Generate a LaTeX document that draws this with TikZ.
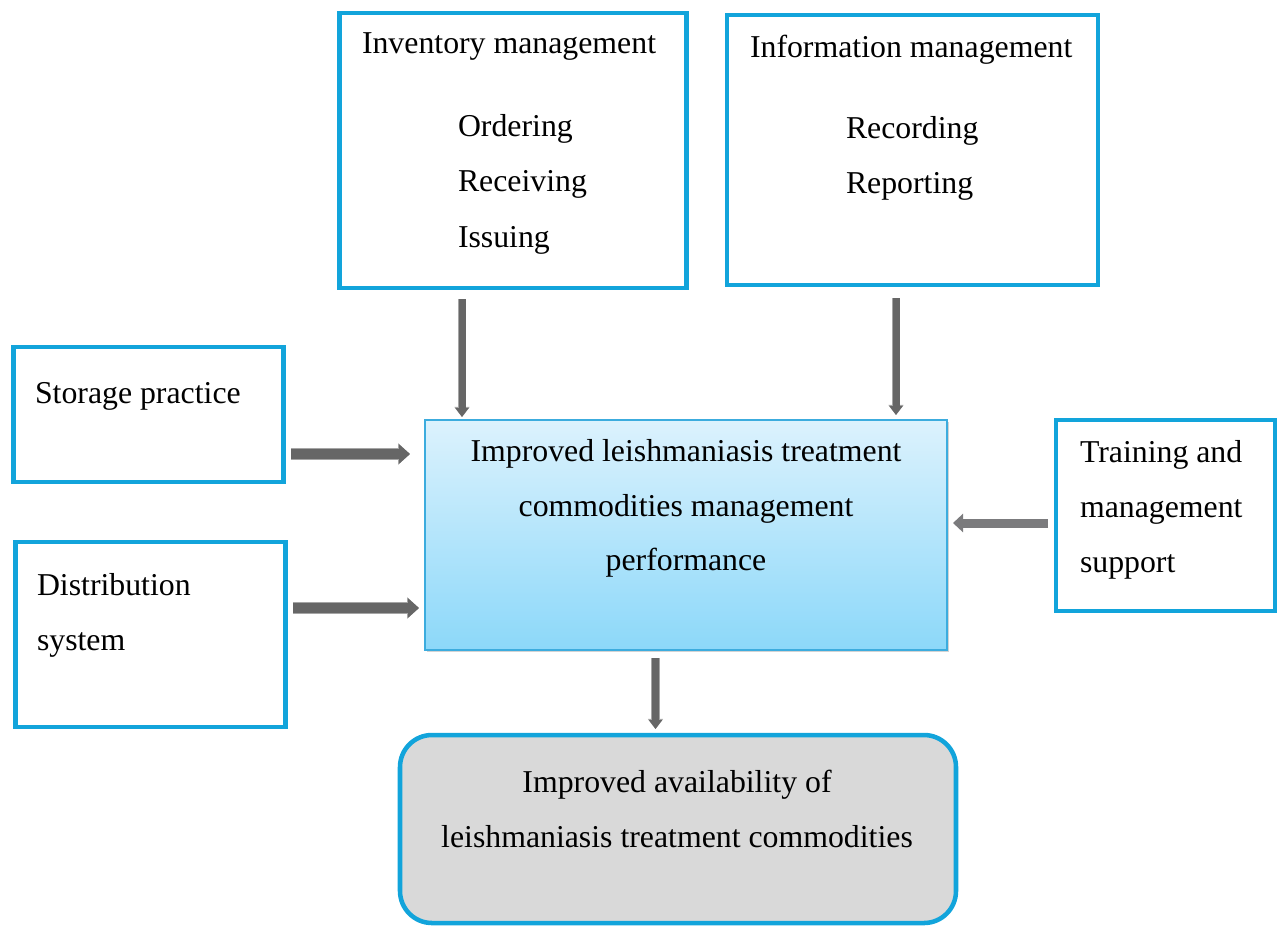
\documentclass[tikz,border=0pt]{standalone}
\usepackage{fontspec}
\setmainfont{Liberation Serif}
\usetikzlibrary{arrows.meta,shadows}
\definecolor{bblue}{RGB}{18,164,219}
\definecolor{cborder}{RGB}{60,172,222}
\definecolor{ctop}{RGB}{220,242,253}
\definecolor{cbot}{RGB}{140,216,249}
\definecolor{agray}{RGB}{102,102,102}
\definecolor{agrayl}{RGB}{165,165,165}
\definecolor{tgray}{RGB}{123,123,125}
\definecolor{botfill}{RGB}{217,217,217}
\begin{document}
\begin{tikzpicture}[x=0.75pt,y=-0.75pt,
  box/.style={draw=bblue, line width=3.4pt, rectangle, inner sep=0pt, outer sep=0pt, anchor=north west},
  lbl/.style={font=\fontsize{23.85pt}{30pt}\selectfont, inner sep=0pt, outer sep=0pt, anchor=base west},
  clbl/.style={lbl, anchor=base},
  varrow/.style={draw=agray, line width=5.25pt, -{Triangle[length=6.75pt,width=9.75pt]},
    preaction={draw=agrayl, line width=6.6pt, -{Triangle[length=7.6pt,width=11pt]}}},
  harrow/.style={draw=agray, line width=7.1pt, -{Triangle[length=8.25pt,width=14.25pt]},
    preaction={draw=agrayl, line width=8.4pt, -{Triangle[length=9pt,width=15.6pt]}}},
  larrow/.style={draw=tgray, line width=6.75pt, -{Triangle[length=7.5pt,width=13.5pt]}}
]
\useasboundingbox (0,0) rectangle (1280,926);

% boxes
\node[box, minimum width=260.25pt, minimum height=206.25pt] (inv) at (339.5,13) {};
\node[box, minimum width=278.25pt, minimum height=202.5pt] (info) at (727,15) {};
\node[box, minimum width=202.5pt, minimum height=101.25pt] (stor) at (13.5,347) {};
\node[box, minimum width=202.5pt, minimum height=138.75pt] (dist) at (15.5,542) {};
\node[box, minimum width=164.25pt, minimum height=143.25pt] (train) at (1056,420) {};
\node[rectangle, draw=cborder, line width=1.1pt, top color=ctop, bottom color=cbot,
      drop shadow={shadow xshift=1.5pt, shadow yshift=-1.5pt, opacity=0.35, fill=black!50},
      inner sep=0pt, outer sep=0pt, anchor=north west,
      minimum width=391.5pt, minimum height=172.5pt] (ctr) at (425,420) {};
\node[box, fill=botfill, rounded corners=24pt, minimum width=417pt, minimum height=141pt] (bot) at (400,735) {};

% texts
\node[lbl] (t1) at (362,53) {Inventory management};
\node[lbl] (t2) at (458,136) {Ordering};
\node[lbl] (t3) at (458,191) {Receiving};
\node[lbl] (t4) at (458,247) {Issuing};
\node[lbl] (t5) at (750,57) {Information management};
\node[lbl] (t6) at (846,138) {Recording};
\node[lbl] (t7) at (846,193) {Reporting};
\node[lbl] (t8) at (35,403) {Storage practice};
\node[lbl] (t9) at (37,595) {Distribution};
\node[lbl] (t10) at (37,650) {system};
\node[lbl] (t11) at (1080,462) {Training and};
\node[lbl] (t12) at (1080,517) {management};
\node[lbl] (t13) at (1080,572) {support};
\node[clbl] (t14) at (686,461) {Improved leishmaniasis treatment};
\node[clbl] (t15) at (686,516) {commodities management};
\node[clbl] (t16) at (686,570) {performance};
\node[clbl] (t17) at (677,792) {Improved availability of};
\node[clbl] (t18) at (677,847) {leishmaniasis treatment commodities};

% arrow guides
\coordinate (a1) at (462,0);
\coordinate (a2) at (896,0);
\coordinate (a3) at (0,454);
\coordinate (a4) at (0,608);
\coordinate (a5) at (0,523);
\coordinate (a6) at (655.5,0);

% arrows
\draw[varrow, shorten <=8.25pt, shorten >=2.25pt] (inv.south -| a1) -- (ctr.north -| a1);
\draw[varrow, shorten <=9.75pt, shorten >=3.75pt] (info.south -| a2) -- (ctr.north -| a2);
\draw[harrow, shorten <=5.6pt, shorten >=11.25pt] (stor.east |- a3) -- (ctr.west |- a3);
\draw[harrow, shorten <=5.6pt, shorten >=4.5pt] (dist.east |- a4) -- (ctr.west |- a4);
\draw[larrow, shorten <=6pt, shorten >=4.5pt] (train.west |- a5) -- (ctr.east |- a5);
\draw[varrow, shorten <=6pt, shorten >=4.5pt] (ctr.south -| a6) -- (bot.north -| a6);
\end{tikzpicture}
\end{document}
